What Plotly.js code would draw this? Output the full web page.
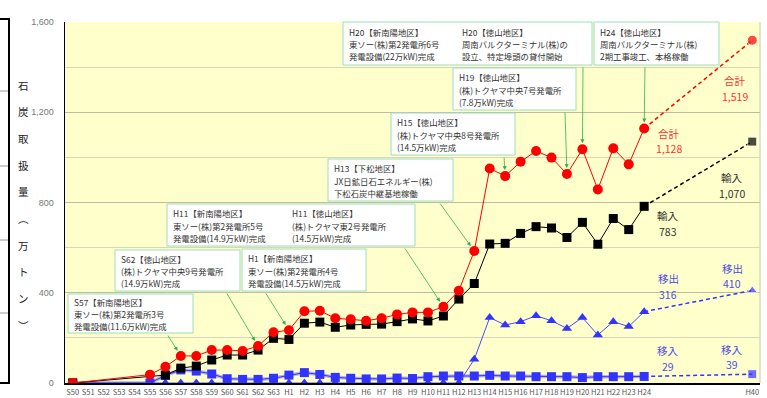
<!DOCTYPE html>
<html>
<head>
<meta charset="utf-8">
<script src="https://cdn.plot.ly/plotly-3.0.1.min.js"></script>
<style>
  html, body { margin: 0; padding: 0; background: #ffffff; }
  #chart { width: 767px; height: 398px; }
</style>
</head>
<body>
<div id="chart"></div>
<script>
// Fiscal years on the horizontal axis (Showa / Heisei)
const periods = [
  'S50','S51','S52','S53','S54','S55','S56','S57','S58','S59','S60','S61','S62','S63',
  'H1','H2','H3','H4','H5','H6','H7','H8','H9','H10','H11','H12','H13','H14','H15','H16',
  'H17','H18','H19','H20','H21','H22','H23','H24'
];
// Axis slots: the record years, a gap, then the outlook year
const axisLabels = periods.concat(['', '', '', '', '', '', 'H40']);
const outlookYear = 'H40';

// Coal handled (10,000 t) by year
const total = [0,null,null,null,null,37,72,120,120,146,146,142,164,225,
  234,318,320,287,282,276,287,304,313,313,338,409,585,951,917,981,1028,999,926,1036,858,1040,969,1128];
const imports = [0,null,null,null,null,null,35,66,75,102,124,124,146,198,
  193,265,270,247,257,260,261,272,284,275,297,372,441,616,619,663,693,687,645,712,615,729,680,783];
const shippedOut = [0,null,null,null,null,0,0,0,0,0,0,0,0,0,
  0,0,0,0,0,0,0,0,0,0,0,0,105,290,257,272,298,276,242,290,213,272,250,316];
const shippedIn = [0,null,null,null,null,0,34,58,53,40,19,16,16,21,
  35,46,38,25,21,18,18,22,20,28,31,31,31,34,31,31,28,28,28,24,28,28,28,29];

// Outlook values
const totalOutlook = 1519;
const importsOutlook = 1070;
const shippedOutOutlook = 410;
const shippedInOutlook = 39;

// Series names
const nameTotal = '合計';
const nameImports = '輸入';
const nameOut = '移出';
const nameIn = '移入';

// Milestone notes
const notes = {
  s57: ['S57【新南陽地区】', '東ソー(株)第2発電所3号', '発電設備(11.6万kW)完成'],
  s62: ['S62【徳山地区】', '(株)トクヤマ中央9号発電所', '(14.9万kW)完成'],
  h1: ['H1【新南陽地区】', '東ソー(株)第2発電所4号', '発電設備(14.5万kW)完成'],
  h11a: ['H11【新南陽地区】', '東ソー(株)第2発電所5号', '発電設備(14.9万kW)完成'],
  h11b: ['H11【徳山地区】', '(株)トクヤマ東2号発電所', '(14.5万kW)完成'],
  h13: ['H13【下松地区】', 'JX日鉱日石エネルギー(株)', '下松石炭中継基地稼働'],
  h15: ['H15【徳山地区】', '(株)トクヤマ中央8号発電所', '(14.5万kW)完成'],
  h19: ['H19【徳山地区】', '(株)トクヤマ中央7号発電所', '(7.8万kW)完成'],
  h20a: ['H20【新南陽地区】', '東ソー(株)第2発電所6号', '発電設備(22万kW)完成'],
  h20b: ['H20【徳山地区】', '周南バルクターミナル(株)の', '設立、特定埠頭の貸付開始'],
  h24: ['H24【徳山地区】', '周南バルクターミナル(株)', '2期工事竣工、本格稼働']
};
const yTitleChars = ['石','炭','取','扱','量','︵','万','ト','ン','︶'];

// ---------- drawing ----------
const W = 767, H = 398;
const M = { l: 65, r: 7, t: 22, b: 15 };
const plotW = W - M.l - M.r, plotH = H - M.t - M.b;
const yMax = 1600;
const nSlots = axisLabels.length;

const idx = p => axisLabels.indexOf(p);
const xs = periods.map(idx);
const lastIdx = idx(periods[periods.length - 1]);
const outIdx = idx(outlookYear);
const last = arr => arr[arr.length - 1];

// pixel -> paper helpers for layout items
const px = x => (x - M.l) / plotW;
const py = y => (H - M.b - y) / plotH;
// data -> pixel (used for arrow tail offsets)
const dataPx = i => M.l + (i + 0.5) * plotW / nSlots;
const dataPy = v => H - M.b - v * plotH / yMax;

const RED = '#ff0000', BLACK = '#000000', BLUE = '#3333ff';
const JP = "'Noto Sans CJK JP', 'Noto Sans', sans-serif";
const DASH = '4px,3px';

const traces = [
  // soft under-stroke of the transfer-in line
  { x: xs, y: shippedIn, mode: 'lines', connectgaps: true,
    line: { color: '#b4b4e6', width: 3.5 }, hoverinfo: 'skip' },
  { x: xs, y: shippedIn, mode: 'lines+markers', name: nameIn, connectgaps: true,
    line: { color: BLUE, width: 1 }, marker: { symbol: 'square', size: 9, color: BLUE } },
  { x: [lastIdx, outIdx], y: [last(shippedIn), shippedInOutlook], mode: 'lines+markers',
    line: { color: BLUE, width: 1.5, dash: DASH },
    marker: { symbol: 'square', size: [0, 9], color: BLUE } },

  { x: xs, y: shippedOut, mode: 'lines+markers', name: nameOut, connectgaps: true,
    line: { color: '#4a4aff', width: 1 }, marker: { symbol: 'triangle-up', size: 9, color: BLUE } },
  { x: [lastIdx, outIdx], y: [last(shippedOut), shippedOutOutlook], mode: 'lines+markers',
    line: { color: BLUE, width: 1.5, dash: DASH },
    marker: { symbol: 'triangle-up', size: [0, 9], color: BLUE } },

  { x: xs, y: imports, mode: 'lines+markers', name: nameImports, connectgaps: true,
    line: { color: BLACK, width: 1 }, marker: { symbol: 'square', size: 9, color: BLACK } },
  { x: [lastIdx, outIdx], y: [last(imports), importsOutlook], mode: 'lines+markers',
    line: { color: BLACK, width: 1.5, dash: DASH },
    marker: { symbol: 'square', size: [0, 9], color: BLACK } },

  { x: xs, y: total, mode: 'lines+markers', name: nameTotal, connectgaps: true,
    line: { color: RED, width: 1 }, marker: { symbol: 'circle', size: 10, color: RED } },
  { x: [lastIdx, outIdx], y: [last(total), totalOutlook], mode: 'lines+markers',
    line: { color: RED, width: 1.5, dash: DASH },
    marker: { symbol: 'circle', size: [0, 10], color: RED } }
];

const shapes = [];
const annotations = [];

// left frame (edge of the neighbouring table)
shapes.push({ type: 'rect', xref: 'paper', yref: 'paper',
  x0: px(-8), x1: px(9), y0: py(383), y1: py(19),
  line: { color: '#000', width: 2 }, fillcolor: 'rgba(0,0,0,0)', layer: 'above' });
[91, 166, 240, 313].forEach(y => shapes.push({ type: 'line', xref: 'paper', yref: 'paper',
  x0: px(-8), x1: px(8), y0: py(y), y1: py(y), line: { color: '#9a9a9a', width: 1 } }));

// right edge of plot area
shapes.push({ type: 'line', xref: 'paper', yref: 'paper', x0: 1, x1: 1, y0: 0, y1: 1,
  line: { color: '#c8c8b0', width: 1 }, layer: 'below' });

// note boxes: [left, top, right, bottom] in px, text columns, target point
const NOTE_LINE = 12.2;
function noteBox(box, columns, target, tail) {
  const [l, t, r, b] = box;
  shapes.push({ type: 'rect', xref: 'paper', yref: 'paper',
    x0: px(l), x1: px(r), y0: py(b), y1: py(t),
    fillcolor: '#ffffff', line: { color: '#9fdcbc', width: 1 }, layer: 'above' });
  const mid = (t + b) / 2 + 0.5;
  columns.forEach(([lines, tx]) => lines.forEach((s, k) => annotations.push({
    xref: 'paper', yref: 'paper', x: px(tx), y: py(mid + (k - 1) * NOTE_LINE),
    xanchor: 'left', yanchor: 'middle', align: 'left', showarrow: false,
    text: s, font: { family: JP, size: 8.4, color: '#333333' }
  })));
  const ti = idx(target);
  const v = total[periods.indexOf(target)];
  annotations.push({
    xref: 'x', yref: 'y', x: ti, y: v, text: '', showarrow: true,
    axref: 'pixel', ayref: 'pixel',
    ax: tail[0] - dataPx(ti), ay: tail[1] - dataPy(v),
    arrowhead: 2, arrowsize: 1, arrowwidth: 0.8, arrowcolor: '#2eb04f', standoff: 6
  });
}

noteBox([68, 294, 193, 333], [[notes.s57, 72]], 'S57', [167, 334]);
noteBox([115, 250, 240, 291], [[notes.s62, 119]], 'S62', [226, 292]);
noteBox([242, 249, 366, 291], [[notes.h1, 246]], 'H1', [265, 292]);
noteBox([167, 204, 415, 246], [[notes.h11a, 171], [notes.h11b, 290]], 'H11', [404, 247]);
noteBox([328, 159, 453, 201], [[notes.h13, 332]], 'H13', [439, 202]);
noteBox([391, 113, 515, 155], [[notes.h15, 395]], 'H15', [504, 156]);
noteBox([453, 68, 576, 110], [[notes.h19, 457]], 'H19', [565, 111]);
noteBox([343, 22, 592, 65], [[notes.h20a, 347], [notes.h20b, 460]], 'H20', [583, 66]);
noteBox([594, 22, 719, 65], [[notes.h24, 598]], 'H24', [645, 66]);

// value labels beside the latest and outlook points
const fmt = v => v.toLocaleString('en-US');
function valueLabel(cx, y1, y2, name, value, color) {
  [[name, y1], [fmt(value), y2]].forEach(([s, y]) => annotations.push({
    xref: 'paper', yref: 'paper', x: px(cx), y: py(y), xanchor: 'center', yanchor: 'middle',
    showarrow: false, text: s, font: { family: JP, size: 10.5, color: color }
  }));
}
valueLabel(735, 80, 96, nameTotal, totalOutlook, '#ff3333');
valueLabel(669, 133, 148, nameTotal, last(total), '#ff3333');
valueLabel(732, 177, 193, nameImports, importsOutlook, '#333333');
valueLabel(668, 215, 231, nameImports, last(imports), '#333333');
valueLabel(732, 268, 283, nameOut, shippedOutOutlook, '#4d4de6');
valueLabel(668, 278, 294, nameOut, last(shippedOut), '#4d4de6');
valueLabel(668, 350, 366, nameIn, last(shippedIn), '#4d4de6');
valueLabel(732, 349, 364, nameIn, shippedInOutlook, '#4d4de6');

// vertical axis title, one character per row
yTitleChars.forEach((c, k) => annotations.push({
  xref: 'paper', yref: 'paper', x: px(23), y: py(85 + k * 26.7),
  xanchor: 'center', yanchor: 'middle', showarrow: false, text: c,
  font: { family: JP, size: 10.5, color: '#222222' }
}));

const layout = {
  width: W, height: H,
  margin: M,
  paper_bgcolor: '#ffffff',
  plot_bgcolor: '#ffffcc',
  showlegend: false,
  font: { family: JP },
  xaxis: {
    range: [-0.5, nSlots - 0.5],
    tickmode: 'array',
    tickvals: axisLabels.map((_, i) => i),
    ticktext: axisLabels,
    tickangle: 0,
    showgrid: false, zeroline: false,
    showline: true, linecolor: '#000', linewidth: 2,
    ticks: '', ticklabelstandoff: 1,
    tickfont: { family: JP, size: 7.5, color: '#555555' }
  },
  yaxis: {
    range: [0, yMax],
    dtick: 400, tickformat: ',d',
    showgrid: true, gridcolor: '#bdbda2', gridwidth: 1,
    minor: { dtick: 200, showgrid: true, gridcolor: '#d6d6bd', gridwidth: 1 },
    zeroline: false,
    showline: true, linecolor: '#000', linewidth: 1.5,
    ticks: '', ticklabelstandoff: 8,
    tickfont: { family: "'Liberation Sans', Arial, sans-serif", size: 9, color: '#777777' }
  },
  shapes: shapes,
  annotations: annotations
};

Plotly.newPlot('chart', traces, layout, { displayModeBar: false, staticPlot: true });
</script>
</body>
</html>
